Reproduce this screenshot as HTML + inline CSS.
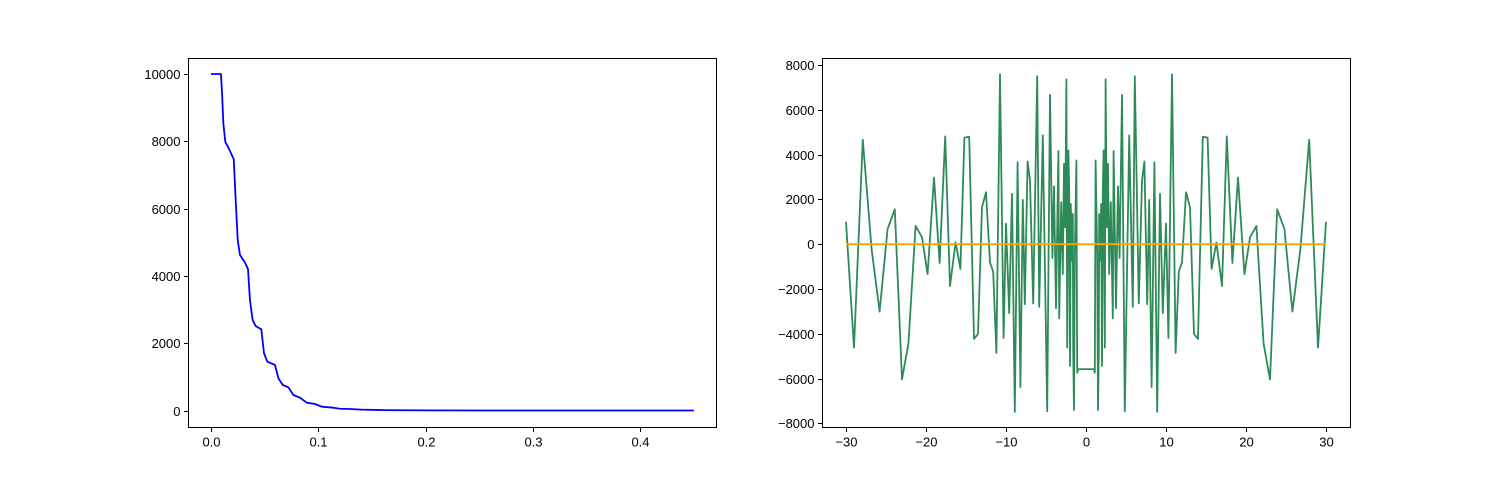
<!DOCTYPE html>
<html><head><meta charset="utf-8"><style>
body{margin:0;background:#fff;}
svg{display:block;font-family:"Liberation Sans","DejaVu Sans",sans-serif;}
</style></head><body>
<svg id="fig" width="1500" height="480" viewBox="0 0 1500 480" xmlns="http://www.w3.org/2000/svg"></svg>
<script>
// Left chart data
const leftX = [0,0.0093,0.0103,0.0115,0.0133,0.017,0.0212,0.023,0.0249,0.027,0.0317,0.0345,0.0363,0.0388,0.0416,0.0469,0.0494,0.0525,0.0597,0.0628,0.0669,0.0721,0.0768,0.083,0.0892,0.097,0.1032,0.114,0.1202,0.1295,0.14,0.16,0.2,0.25,0.3,0.35,0.4,0.45];
const leftY = [10000,10000,9426,8535,7988,7762,7465,6256,5067,4621,4393,4196,3284,2689,2511,2413,1700,1450,1352,957,758,689,461,381,232,193,113,83,53,45,25,12,4,1,0,0,0,0];
const leftXTicks = [0,0.1,0.2,0.3,0.4];
const leftXLabels = ["0.0","0.1","0.2","0.3","0.4"];
const leftYTicks = [0,2000,4000,6000,8000,10000];
// Right chart data
const rightX = [-30,-29.0,-27.9,-26.8,-25.8,-24.8,-23.9,-23.0,-22.2,-21.3,-20.5,-19.8,-19.0,-18.3,-17.6,-17.0,-16.3,-15.7,-15.2,-14.6,-14.0,-13.5,-13.0,-12.5,-12.0,-11.6,-11.2,-10.75,-10.3,-10.0,-9.6,-9.25,-8.9,-8.55,-8.2,-7.9,-7.65,-7.3,-7.0,-6.6,-6.1,-5.85,-5.4,-4.85,-4.5,-4.2,-4.0,-3.75,-3.45,-3.35,-3.1,-2.9,-2.75,-2.6,-2.45,-2.35,-2.2,-2.1,-2.0,-1.9,-1.75,-1.65,-1.6,-1.5,-1.4,-1.2,-1.1,-1.0,
1.0,1.1,1.2,1.4,1.5,1.6,1.65,1.75,1.9,2.0,2.1,2.2,2.35,2.45,2.6,2.75,2.9,3.1,3.35,3.45,3.75,4.0,4.2,4.5,4.85,5.4,5.85,6.1,6.6,7.0,7.3,7.65,7.9,8.2,8.55,8.9,9.25,9.6,10.0,10.3,10.75,11.2,11.6,12.0,12.5,13.0,13.5,14.0,14.6,15.2,15.7,16.3,17.0,17.6,18.3,19.0,19.8,20.5,21.3,22.2,23.0,23.9,24.8,25.8,26.8,27.9,29.0,30];
const rightY = [1000,-4620,4670,-215,-3010,680,1560,-6040,-4440,815,305,-1335,2980,-840,4815,-1870,80,-1100,4760,4800,-4230,-4010,1650,2320,-815,-1230,-4860,7590,-4190,920,-3080,2250,-7490,3660,-6380,1980,-2680,3700,2840,-2650,7500,-2800,4860,-7460,6670,-620,2580,-2860,4160,-3310,1870,-1335,3590,750,7360,-4620,4190,2400,-5440,1800,-740,1350,-4770,-7410,-440,3740,-5740,-5580,
-5580,-5740,3740,-440,-7410,-4770,1350,-740,1800,-5440,2400,4190,-4620,7360,750,3590,-1335,1870,-3310,4160,-2860,2580,-620,6670,-7460,4860,-2800,7500,-2650,2840,3700,-2680,1980,-6380,3660,-7490,2250,-3080,920,-4190,7590,-4860,-1230,-815,2320,1650,-4010,-4230,4800,4760,-1100,80,-1870,4815,-840,2980,-1335,305,815,-4440,-6040,1560,680,-3010,-215,4670,-4620,1000];
const zeroX = [-30,30];
const zeroY = [0,0];
const rightXTicks = [-30,-20,-10,0,10,20,30];
const rightXLabels = ["\u221230","\u221220","\u221210","0","10","20","30"];
const rightYTicks = [-8000,-6000,-4000,-2000,0,2000,4000,6000,8000];

const NS="http://www.w3.org/2000/svg";
const svg=document.getElementById('fig');
function mk(tag,attrs,parent){const e=document.createElementNS(NS,tag);for(const k in attrs)e.setAttribute(k,attrs[k]);(parent||svg).appendChild(e);return e;}
function fmt(v){return v<0?"\u2212"+Math.abs(v):String(v);}

function drawAxes(name){
  const g=mk('g',{});
  
  
  return g;
}

// ---- Left chart ----
const L={x0:188.5,x1:716.5,y0:58.5,y1:427.5};
const lsx=v=>211+v*1073;
const lsy=v=>410.5-v*0.03365;
const gl=drawAxes('left-chart');
xt(gl,L,leftXTicks,leftXLabels,lsx,'left-x-tick');
yt(gl,L,leftYTicks,leftYTicks.map(fmt),lsy,'left-y-tick');
const lp=mk('polyline',{points:leftX.map((x,i)=>lsx(x)+','+lsy(leftY[i])).join(' '),fill:'none',stroke:'#0000ff','stroke-width':1.8,'stroke-linejoin':'round'},gl);


frame(gl,L,'left-axes-frame');

// ---- Right chart ----
const R={x0:822.5,x1:1350.5,y0:58.5,y1:427.5};
const rsx=v=>846+(v+30)*8;
const rsy=v=>244.2-v*0.02239;
const gr=drawAxes('right-chart');
xt(gr,R,rightXTicks,rightXLabels,rsx,'right-x-tick');
yt(gr,R,rightYTicks,rightYTicks.map(fmt),rsy,'right-y-tick');
const rp=mk('polyline',{points:rightX.map((x,i)=>rsx(x)+','+rsy(rightY[i])).join(' '),fill:'none',stroke:'#2e8b57','stroke-width':1.8,'stroke-linejoin':'round'},gr);


const zp=mk('polyline',{points:zeroX.map((x,i)=>rsx(x)+','+rsy(zeroY[i])).join(' '),fill:'none',stroke:'#ffa500','stroke-width':1.8},gr);


frame(gr,R,'right-axes-frame');

function xt(g,B,ticks,labels,sx,nm){
  ticks.forEach((t,i)=>{
    const x=Math.round(sx(t))+0.5;
    const l=mk('line',{x1:x,x2:x,y1:B.y1,y2:B.y1+4.5,stroke:'#000','stroke-width':1},g);
    
    
    const tx=mk('text',{x:x,y:B.y1+19,'font-size':13,'text-anchor':'middle',fill:'#000'},g);
    tx.textContent=labels[i];
    
    
  });
}
function yt(g,B,ticks,labels,sy,nm){
  ticks.forEach((t,i)=>{
    const y=Math.round(sy(t))+0.5;
    const l=mk('line',{x1:B.x0-4.5,x2:B.x0,y1:y,y2:y,stroke:'#000','stroke-width':1},g);
    
    
    const tx=mk('text',{x:B.x0-8,y:y+4.5,'font-size':13,'text-anchor':'end',fill:'#000'},g);
    tx.textContent=labels[i];
    
    
  });
}
function frame(g,B,nm){
  const r=mk('rect',{x:B.x0,y:B.y0,width:B.x1-B.x0,height:B.y1-B.y0,fill:'none',stroke:'#000','stroke-width':1},g);
  
  
}
</script>
</body></html>
